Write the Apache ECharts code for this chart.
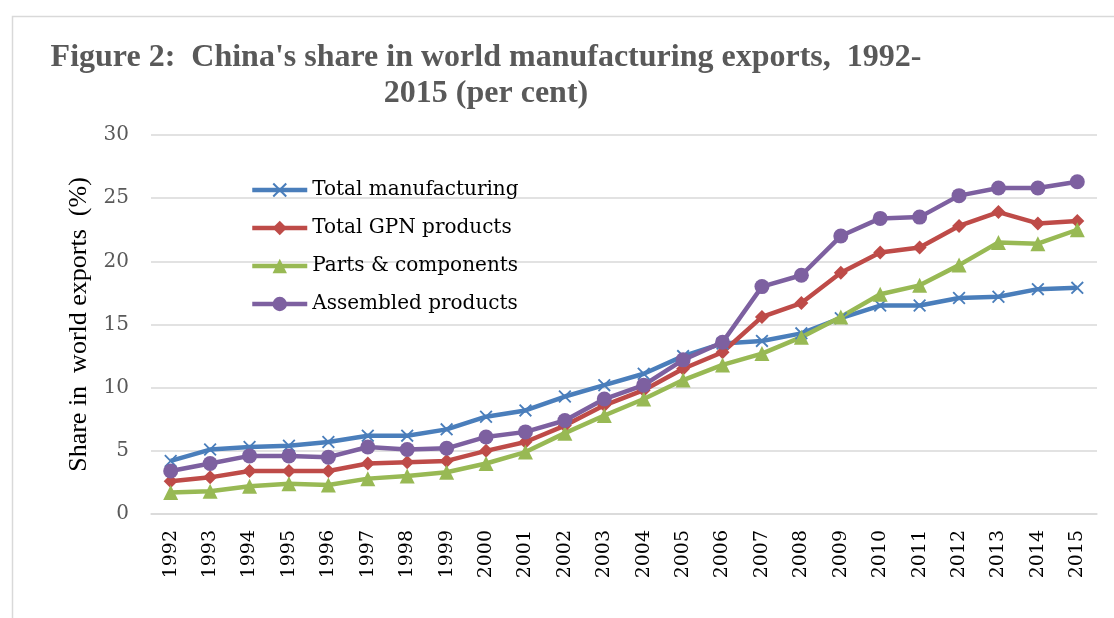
<!DOCTYPE html>
<html>
<head>
<meta charset="utf-8">
<script src="https://cdn.jsdelivr.net/npm/echarts@6/dist/echarts.min.js"></script>
<style>
html,body{margin:0;padding:0;background:#fff;}
#chart{width:1114px;height:618px;}
</style>
</head>
<body>
<div id="chart"></div>
<script>
const years = ['1992','1993','1994','1995','1996','1997','1998','1999','2000','2001','2002','2003','2004','2005','2006','2007','2008','2009','2010','2011','2012','2013','2014','2015'];
const totalManufacturing = [4.2,5.1,5.3,5.4,5.7,6.2,6.2,6.7,7.7,8.2,9.3,10.2,11.1,12.5,13.5,13.7,14.3,15.5,16.5,16.5,17.1,17.2,17.8,17.9];
const totalGPN = [2.6,2.9,3.4,3.4,3.4,4.0,4.1,4.2,5.0,5.7,7.0,8.6,9.8,11.5,12.8,15.6,16.7,19.1,20.7,21.1,22.8,23.9,23.0,23.2];
const partsComponents = [1.7,1.8,2.2,2.4,2.3,2.8,3.0,3.3,4.0,4.9,6.4,7.8,9.1,10.6,11.8,12.7,14.0,15.6,17.4,18.1,19.7,21.5,21.4,22.5];
const assembledProducts = [3.4,4.0,4.6,4.6,4.5,5.3,5.1,5.2,6.1,6.5,7.4,9.1,10.2,12.2,13.6,18.0,18.9,22.0,23.4,23.5,25.2,25.8,25.8,26.3];
const seriesNames = ['Total manufacturing','Total GPN products','Parts & components','Assembled products'];
const yTicks = [0,5,10,15,20,25,30];

const crossPath = 'path://M0,1 L1,0 L5,4 L9,0 L10,1 L6,5 L10,9 L9,10 L5,6 L1,10 L0,9 L4,5 Z';
const chart = echarts.init(document.getElementById('chart'));
function mk(name, data, color, symbol, size){
  return {name, type:'line', data, symbol, symbolSize:size, showAllSymbol:true,
    lineStyle:{color, width:4.5}, itemStyle:{color, borderWidth:0}, emphasis:{disabled:true}, animation:false};
}
chart.setOption({
  animation:false,
  graphic:[{type:'rect', left:10, top:14, shape:{width:1300, height:800}, style:{fill:'none', stroke:'#d9d9d9', lineWidth:1.5}, silent:true}],
  title:{
    text:"Figure 2:  China's share in world manufacturing exports,  1992-\n2015 (per cent)",
    left:481, top:35, textAlign:'center',
    textStyle:{fontFamily:'Liberation Serif', fontWeight:'bold', fontSize:32, color:'#595959', lineHeight:36}
  },
  legend:{
    data:seriesNames, orient:'vertical', left:245, top:175, itemWidth:55, itemHeight:18, itemGap:18,
    lineStyle:{width:4.5},
    textStyle:{fontFamily:'DejaVu Serif', fontSize:20, color:'#000'}
  },
  grid:{left:151, right:17, top:135, bottom:104},
  xAxis:{
    type:'category', data:years, boundaryGap:true,
    axisLine:{lineStyle:{color:'#d9d9d9', width:1.5}}, axisTick:{show:false},
    axisLabel:{rotate:90, margin:16, fontFamily:'DejaVu Serif', fontSize:19, color:'#000'}
  },
  yAxis:{
    type:'value', min:0, max:30, interval:5,
    name:'Share in  world exports  (%)', nameLocation:'middle', nameGap:56,
    nameTextStyle:{fontFamily:'Liberation Serif', fontSize:26, color:'#000'},
    axisLine:{show:false}, axisTick:{show:false},
    splitLine:{lineStyle:{color:'#d9d9d9', width:1.5}},
    axisLabel:{margin:22, fontFamily:'DejaVu Serif', fontSize:20, color:'#595959',
      formatter:function(v){return yTicks.indexOf(v)>=0? String(v):'';}}
  },
  series:[
    mk(seriesNames[0], totalManufacturing, '#4a7ebb', crossPath, 13),
    mk(seriesNames[1], totalGPN, '#be4b48', 'diamond', 14),
    mk(seriesNames[2], partsComponents, '#98b954', 'triangle', 15),
    mk(seriesNames[3], assembledProducts, '#7d60a0', 'circle', 15)
  ]
});
</script>
</body>
</html>
